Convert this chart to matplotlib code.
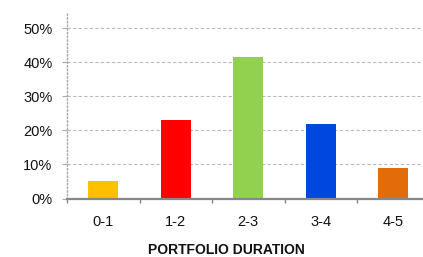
import numpy as np
import matplotlib.pyplot as plt
from matplotlib.ticker import FuncFormatter

categories = ['0-1', '1-2', '2-3', '3-4', '4-5']
shares = [5, 23, 41.5, 22, 9]
colors = ['#FFC000', '#FF0000', '#92D050', '#0047DF', '#E36C0A']

plt.rcParams['font.family'] = ['Liberation Sans', 'DejaVu Sans']

fig = plt.figure(figsize=(4.23, 2.57), dpi=100)
ax = fig.add_axes([67 / 423, 1 - 198.5 / 257, 362.5 / 423, 185.5 / 257])

x = np.arange(len(categories))
ax.bar(x, shares, width=0.41, color=colors, zorder=3)

ax.set_xlim(-0.5, len(categories) - 0.5)
ax.set_ylim(0, 54.5)
ax.set_yticks(np.arange(0, 51, 10))
ax.yaxis.set_major_formatter(FuncFormatter(lambda v, p: f'{v:.0f}%'))
ax.grid(axis='y', color='#bbbbbb', linestyle=(0, (3, 2)), linewidth=0.8, zorder=0)

# category labels in the middle, tick marks at the boundaries
ax.set_xticks(x)
ax.set_xticklabels(categories)
ax.set_xticks(np.arange(-0.5, len(categories), 1), minor=True)
ax.tick_params(axis='x', which='major', length=0, pad=12, labelsize=10.5, labelcolor='#111111')
ax.tick_params(axis='x', which='minor', length=3, color='#888888', width=1)
ax.tick_params(axis='y', length=3.5, color='#aaaaaa', width=0.8, pad=7, labelsize=10.5, labelcolor='#111111')

for s in ['top', 'right']:
    ax.spines[s].set_visible(False)
ax.spines['bottom'].set_color('#888888')
ax.spines['bottom'].set_linewidth(1.6)
ax.spines['bottom'].set_zorder(4)
ax.spines['left'].set_color('#aaaaaa')
ax.spines['left'].set_linestyle(':')
ax.spines['left'].set_linewidth(1)

fig.text(226 / 423, 1 - 250 / 257, 'PORTFOLIO DURATION', ha='center', va='center',
         fontsize=10, fontweight='bold', color='#111111')

fig.savefig('out.png', dpi=100)
